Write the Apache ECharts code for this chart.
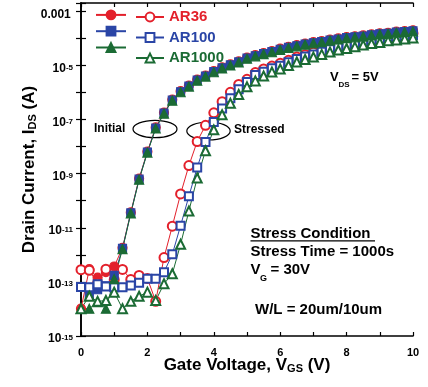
<!DOCTYPE html>
<html>
<head>
<meta charset="utf-8">
<script src="https://cdn.jsdelivr.net/npm/echarts@6/dist/echarts.min.js"></script>
<style>
html,body{margin:0;padding:0;background:#fff;}
#chart{width:428px;height:387px;}
</style>
</head>
<body>
<div id="chart"></div>
<script>
// Gate voltage (V)
var gateVoltage = [0,0.25,0.5,0.75,1,1.25,1.5,1.75,2,2.25,2.5,2.75,3,3.25,3.5,3.75,4,4.25,4.5,4.75,5,5.25,5.5,5.75,6,6.25,6.5,6.75,7,7.25,7.5,7.75,8,8.25,8.5,8.75,9,9.25,9.5,9.75,10];
// log10 of drain current (A)
var ar36Initial = [-13.99,-12.53,-12.84,-12.64,-12.43,-11.74,-10.43,-9.18,-8.18,-7.29,-6.74,-6.26,-5.95,-5.74,-5.52,-5.37,-5.21,-5.07,-4.96,-4.85,-4.71,-4.62,-4.54,-4.47,-4.38,-4.31,-4.25,-4.19,-4.14,-4.10,-4.04,-4.00,-3.95,-3.92,-3.89,-3.85,-3.81,-3.79,-3.75,-3.73,-3.70];
var ar100Initial = [-13.19,-13.54,-13.29,-13.15,-12.76,-11.76,-10.45,-9.20,-8.20,-7.31,-6.76,-6.28,-5.97,-5.76,-5.54,-5.39,-5.23,-5.09,-4.98,-4.87,-4.73,-4.64,-4.56,-4.49,-4.40,-4.33,-4.27,-4.21,-4.16,-4.12,-4.06,-4.02,-3.97,-3.94,-3.91,-3.87,-3.83,-3.81,-3.77,-3.75,-3.72];
var ar1000Initial = [-13.99,-13.99,-13.75,-13.99,-12.90,-11.79,-10.47,-9.22,-8.22,-7.33,-6.78,-6.30,-5.99,-5.78,-5.56,-5.41,-5.25,-5.11,-5.00,-4.89,-4.75,-4.66,-4.58,-4.51,-4.42,-4.35,-4.29,-4.23,-4.18,-4.14,-4.08,-4.04,-3.99,-3.96,-3.93,-3.89,-3.85,-3.83,-3.79,-3.77,-3.74];
var ar36Stressed = [-12.55,-12.57,-13.05,-12.53,-12.92,-12.54,-12.91,-12.76,-12.87,-13.72,-12.10,-10.94,-9.75,-8.70,-7.81,-7.21,-6.75,-6.34,-5.99,-5.70,-5.51,-5.26,-5.13,-5.02,-4.92,-4.81,-4.69,-4.60,-4.51,-4.43,-4.33,-4.26,-4.20,-4.15,-4.07,-4.02,-3.98,-3.93,-3.89,-3.85,-3.81];
var ar100Stressed = [-13.19,-13.20,-13.09,-13.17,-13.20,-13.20,-13.13,-13.03,-12.88,-12.88,-12.64,-11.98,-10.92,-9.83,-8.77,-7.83,-7.09,-6.59,-6.21,-5.88,-5.61,-5.35,-5.23,-5.10,-5.01,-4.88,-4.76,-4.67,-4.59,-4.49,-4.40,-4.33,-4.28,-4.21,-4.14,-4.08,-4.06,-3.99,-3.96,-3.91,-3.87];
var ar1000Stressed = [-13.99,-13.53,-13.72,-13.69,-13.38,-13.99,-13.72,-13.53,-13.38,-13.69,-13.07,-12.70,-11.61,-10.38,-9.16,-8.15,-7.38,-6.82,-6.40,-6.07,-5.79,-5.57,-5.39,-5.24,-5.13,-5.00,-4.87,-4.78,-4.69,-4.59,-4.50,-4.43,-4.37,-4.31,-4.24,-4.19,-4.15,-4.09,-4.06,-4.02,-3.98];
var xTickLabels = ['0','2','4','6','8','10'];
var yTickExponents = [-15,-13,-11,-9,-7,-5,-3];

var RED = '#e3202b', BLUE = '#2a45a6', GREEN = '#1b6b34';
var FF = '"Liberation Sans", Arial, Helvetica, sans-serif';

function pairs(ys){ return gateVoltage.map(function(v,i){ return [v, ys[i]]; }); }

function mk(name, ys, color, symbol, size){
  return {
    name: name, type: 'line', data: pairs(ys),
    symbol: symbol, symbolSize: size,
    lineStyle: {color: color, width: 1},
    itemStyle: {color: color, borderColor: color, borderWidth: 1.2},
    emphasis: {disabled: true}, silent: true, z: 3
  };
}

var chart = echarts.init(document.getElementById('chart'), null, {renderer: 'canvas'});

var axisCommonY = {
  type: 'value', min: -15, max: -2.69, interval: 1,
  axisLine: {show: true, lineStyle: {color: '#000', width: 1.6}},
  axisTick: {show: true, inside: true, length: 5, lineStyle: {color: '#000', width: 1.2}},
  splitLine: {show: false}
};
var axisCommonX = {
  type: 'value', min: 0, max: 10, interval: 1,
  axisLine: {show: true, lineStyle: {color: '#000', width: 1.6}},
  axisTick: {show: true, inside: true, length: 4, lineStyle: {color: '#000', width: 1.2}},
  splitLine: {show: false}
};

var option = {
  animation: false,
  backgroundColor: '#fff',
  grid: {left: 81, right: 15, top: 3, bottom: 51, containLabel: false},
  xAxis: [
    Object.assign({}, axisCommonX, {
      position: 'bottom',
      name: '{b|Gate Voltage, V}{s|GS}{b| (V)}',
      nameLocation: 'middle', nameGap: 20.5, nameMoveOverlap: false,
      nameTextStyle: {rich: {
        b: {fontFamily: FF, fontWeight: 'bold', fontSize: 17, lineHeight: 18, color: '#000'},
        s: {fontFamily: FF, fontWeight: 'bold', fontSize: 11, lineHeight: 6, verticalAlign: 'bottom', color: '#000'}
      }},
      axisLabel: {
        show: true, interval: 0, margin: 11,
        fontFamily: FF, fontWeight: 'bold', fontSize: 11, color: '#000',
        formatter: function(v){
          var i = xTickLabels.indexOf(String(v));
          return i >= 0 ? xTickLabels[i] : '';
        }
      }
    }),
    Object.assign({}, axisCommonX, {position: 'top', axisLabel: {show: false}})
  ],
  yAxis: [
    Object.assign({}, axisCommonY, {
      position: 'left',
      name: '{b|Drain Current, I}{s|DS}{b| (A)}',
      nameLocation: 'middle', nameGap: 42.5, nameRotate: 90, nameMoveOverlap: false,
      nameTextStyle: {rich: {
        b: {fontFamily: FF, fontWeight: 'bold', fontSize: 17, lineHeight: 18, color: '#000'},
        s: {fontFamily: FF, fontWeight: 'bold', fontSize: 11, lineHeight: 6, verticalAlign: 'bottom', color: '#000'}
      }},
      axisLabel: {
        show: true, interval: 0, margin: 8,
        formatter: function(v){
          if (Math.abs(v - Math.round(v)) > 1e-6) return '';
          var e = Math.round(v);
          if (yTickExponents.indexOf(e) < 0) return '';
          if (e === -3) return '{b|0.001}{s| }';
          return '{b|10}{s|' + e + '}';
        },
        rich: {
          b: {fontFamily: FF, fontWeight: 'bold', fontSize: 12, lineHeight: 12, padding: [6,0,0,0], color: '#000'},
          s: {fontFamily: FF, fontWeight: 'bold', fontSize: 8, lineHeight: 8, padding: [4,0,0,0], verticalAlign: 'top', color: '#000'}
        }
      }
    }),
    Object.assign({}, axisCommonY, {position: 'right', axisLabel: {show: false}})
  ],
  legend: [
    {
      data: ['AR36 initial','AR100 initial','AR1000 initial'],
      orient: 'vertical', left: 95, top: 9.5, padding: 0, itemWidth: 30, itemHeight: 11, itemGap: 5.5,
      selectedMode: false, formatter: function(){ return ''; },
      textStyle: {fontSize: 11, lineHeight: 11}
    },
    {
      data: [
        {name: 'AR36', textStyle: {color: RED}},
        {name: 'AR100', textStyle: {color: BLUE}},
        {name: 'AR1000', textStyle: {color: GREEN}}
      ],
      orient: 'vertical', left: 135, top: 9.5, padding: 0, itemWidth: 28, itemHeight: 11, itemGap: 5.5,
      selectedMode: false,
      textStyle: {fontFamily: FF, fontWeight: 'bold', fontSize: 15, lineHeight: 11}
    }
  ],
  series: [
    mk('AR36 initial', ar36Initial, RED, 'circle', 9),
    mk('AR36', ar36Stressed, RED, 'emptyCircle', 9),
    mk('AR100 initial', ar100Initial, BLUE, 'rect', 8),
    mk('AR100', ar100Stressed, BLUE, 'emptyRect', 8),
    mk('AR1000 initial', ar1000Initial, GREEN, 'triangle', 9),
    mk('AR1000', ar1000Stressed, GREEN, 'emptyTriangle', 9)
  ],
  graphic: [
    {type: 'text', x: 94, y: 128.5, style: {text: 'Initial', font: 'bold 12px ' + FF, fill: '#000', textVerticalAlign: 'middle'}},
    {type: 'ellipse', shape: {cx: 155, cy: 129, rx: 22, ry: 8.7}, style: {fill: 'none', stroke: '#000', lineWidth: 1.2}},
    {type: 'ellipse', shape: {cx: 208.5, cy: 131, rx: 21.7, ry: 9}, style: {fill: 'none', stroke: '#000', lineWidth: 1.2}},
    {type: 'text', x: 234, y: 130, style: {text: 'Stressed', font: 'bold 12px ' + FF, fill: '#000', textVerticalAlign: 'middle'}},
    {type: 'text', x: 330, y: 77.5, style: {text: 'V', font: 'bold 13px ' + FF, fill: '#000', textVerticalAlign: 'middle'}},
    {type: 'text', x: 338.5, y: 85, style: {text: 'DS', font: 'bold 8px ' + FF, fill: '#000', textVerticalAlign: 'middle'}},
    {type: 'text', x: 351.5, y: 77.5, style: {text: '= 5V', font: 'bold 13px ' + FF, fill: '#000', textVerticalAlign: 'middle'}},
    {type: 'text', x: 250.5, y: 233.5, style: {text: 'Stress Condition', font: 'bold 15px ' + FF, fill: '#000', textVerticalAlign: 'middle'}},
    {type: 'line', shape: {x1: 250.5, y1: 240.8, x2: 375, y2: 240.8}, style: {stroke: '#000', lineWidth: 1.2}},
    {type: 'text', x: 250.5, y: 251.5, style: {text: 'Stress Time = 1000s', font: 'bold 15px ' + FF, fill: '#000', textVerticalAlign: 'middle'}},
    {type: 'text', x: 250.5, y: 269.5, style: {text: 'V', font: 'bold 15px ' + FF, fill: '#000', textVerticalAlign: 'middle'}},
    {type: 'text', x: 260, y: 279, style: {text: 'G', font: 'bold 9px ' + FF, fill: '#000', textVerticalAlign: 'middle'}},
    {type: 'text', x: 270.5, y: 269.5, style: {text: '= 30V', font: 'bold 15px ' + FF, fill: '#000', textVerticalAlign: 'middle'}},
    {type: 'text', x: 255, y: 309.5, style: {text: 'W/L = 20um/10um', font: 'bold 15px ' + FF, fill: '#000', textVerticalAlign: 'middle'}}
  ]
};
chart.setOption(option);
</script>
</body>
</html>
